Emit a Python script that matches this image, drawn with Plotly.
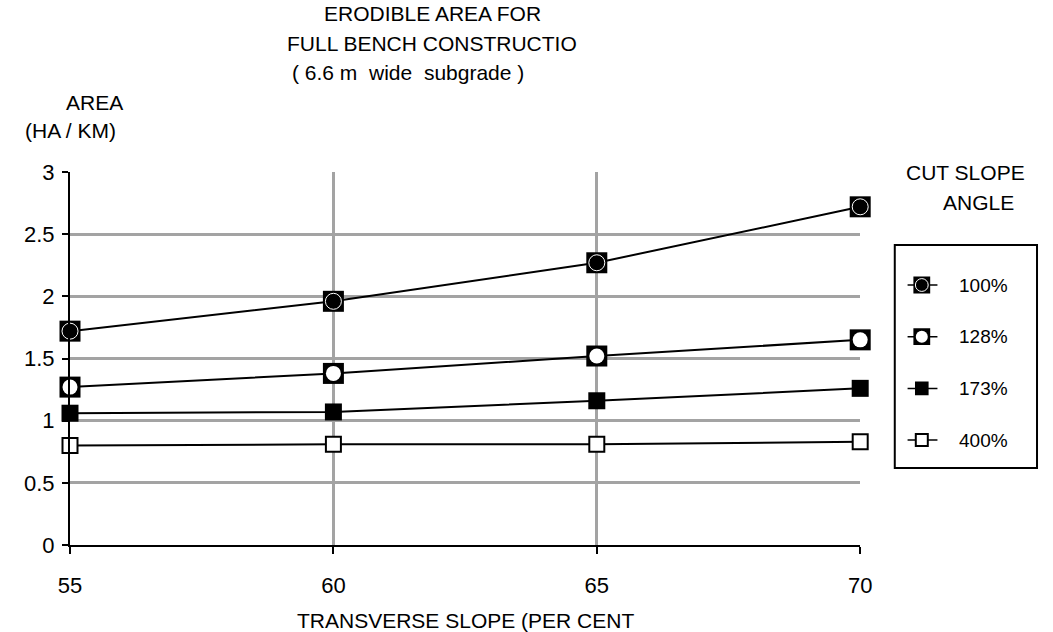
import plotly.graph_objects as go

# Transverse slope (per cent) on the x axis
slopes = [55, 60, 65, 70]

# Erodible area (ha / km) for each cut slope angle
area_100 = [1.72, 1.96, 2.27, 2.72]
area_128 = [1.27, 1.38, 1.52, 1.65]
area_173 = [1.06, 1.07, 1.16, 1.26]
area_400 = [0.80, 0.81, 0.81, 0.83]

series_names = ["100%", "128%", "173%", "400%"]
y_ticks = [0, 0.5, 1, 1.5, 2, 2.5, 3]
x_ticks = [55, 60, 65, 70]

FONT = "Liberation Sans, Arial, sans-serif"
FS = 21
W, H = 1053, 632
L, R, T, B = 70, 3, 172, 87
PW = W - L - R
PH = H - T - B
PLOT_RIGHT = 870


def px_x(p):
    return (p - L) / PW


def px_y(p):
    return (H - B - p) / PH


# composite marker styles: list of (symbol, size, fill, line colour, line width)
styles = {
    "100%": [("square", 21, "black", "black", 0), ("circle", 16, "black", "white", 1)],
    "128%": [("square", 21, "black", "black", 0), ("circle", 15, "white", "white", 0)],
    "173%": [("square", 17, "black", "black", 0)],
    "400%": [("square", 15, "white", "black", 2)],
}
values = {"100%": area_100, "128%": area_128, "173%": area_173, "400%": area_400}

fig = go.Figure()

for name in series_names:
    ys = values[name]
    fig.add_trace(go.Scatter(
        x=slopes, y=ys, mode="lines", line=dict(color="black", width=2),
        showlegend=False, hoverinfo="skip", cliponaxis=False))
    for sym, size, fill, lc, lw in styles[name]:
        fig.add_trace(go.Scatter(
            x=slopes, y=ys, mode="markers", name=name, showlegend=False,
            marker=dict(symbol=sym, size=size, color=fill, line=dict(color=lc, width=lw)),
            cliponaxis=False))

# hand-built key in its own small axes
for i, name in enumerate(series_names):
    fig.add_trace(go.Scatter(
        x=[0.09, 0.30], y=[i, i], mode="lines", line=dict(color="black", width=1.5),
        xaxis="x2", yaxis="y2", showlegend=False, hoverinfo="skip"))
    for sym, size, fill, lc, lw in styles[name]:
        scale = 0.8
        fig.add_trace(go.Scatter(
            x=[0.19], y=[i], mode="markers", showlegend=False, hoverinfo="skip",
            marker=dict(symbol=sym, size=size * scale, color=fill,
                        line=dict(color=lc, width=lw)),
            xaxis="x2", yaxis="y2"))

annotations = []
for i, name in enumerate(series_names):
    annotations.append(dict(x=0.44, y=i, xref="x2", yref="y2", text=name, showarrow=False,
                            xanchor="left", yanchor="middle",
                            font=dict(family=FONT, size=19, color="black")))


def text_at(txt, cx, cy, size=FS):
    annotations.append(dict(x=px_x(cx), y=px_y(cy), xref="paper", yref="paper", text=txt,
                            showarrow=False, xanchor="center", yanchor="middle",
                            font=dict(family=FONT, size=size, color="black")))


NB = "\u00a0"
text_at("ERODIBLE AREA FOR", 437, 14)
text_at("FULL BENCH CONSTRUCTIO", 436, 43)
text_at(f"( 6.6 m{NB} wide{NB} subgrade )", 412, 72)
text_at("AREA", 95, 102)
text_at("(HA / KM)", 70, 131)
text_at("TRANSVERSE SLOPE (PER CENT", 470, 620)
text_at("CUT SLOPE", 977, 172)
text_at("ANGLE", 990, 202)

box_x0, box_x1, box_y0, box_y1 = 905, 1049, 245, 468

fig.update_layout(
    width=W, height=H, autosize=False,
    margin=dict(l=L, r=R, t=T, b=B, pad=0),
    paper_bgcolor="white", plot_bgcolor="white",
    font=dict(family=FONT, size=FS, color="black"),
    showlegend=False,
    xaxis=dict(
        domain=[0, px_x(PLOT_RIGHT)], range=[55, 70], tickvals=x_ticks,
        showgrid=True, gridcolor="#a3a3a3", gridwidth=2.5,
        showline=True, linecolor="black", linewidth=2,
        ticks="outside", ticklen=7, tickwidth=2, tickcolor="black",
        zeroline=False, tickfont=dict(size=22), ticklabelstandoff=13),
    yaxis=dict(
        range=[0, 3], tickvals=y_ticks, ticktext=[str(v) for v in y_ticks],
        showgrid=True, gridcolor="#a3a3a3", gridwidth=2.5,
        showline=True, linecolor="black", linewidth=2,
        ticks="outside", ticklen=6, tickwidth=2, tickcolor="black",
        zeroline=False, tickfont=dict(size=22), ticklabelstandoff=3),
    xaxis2=dict(domain=[px_x(box_x0), px_x(box_x1)], range=[0, 1], visible=False,
                anchor="y2", fixedrange=True),
    yaxis2=dict(domain=[px_y(box_y1), px_y(box_y0)], range=[3.54, -0.774], visible=False,
                anchor="x2", fixedrange=True),
    shapes=[dict(type="rect", xref="paper", yref="paper",
                 x0=px_x(box_x0), x1=px_x(box_x1), y0=px_y(box_y1), y1=px_y(box_y0),
                 line=dict(color="black", width=2), layer="below")],
    annotations=annotations,
)

fig.write_html("out.html", config={"responsive": False})
